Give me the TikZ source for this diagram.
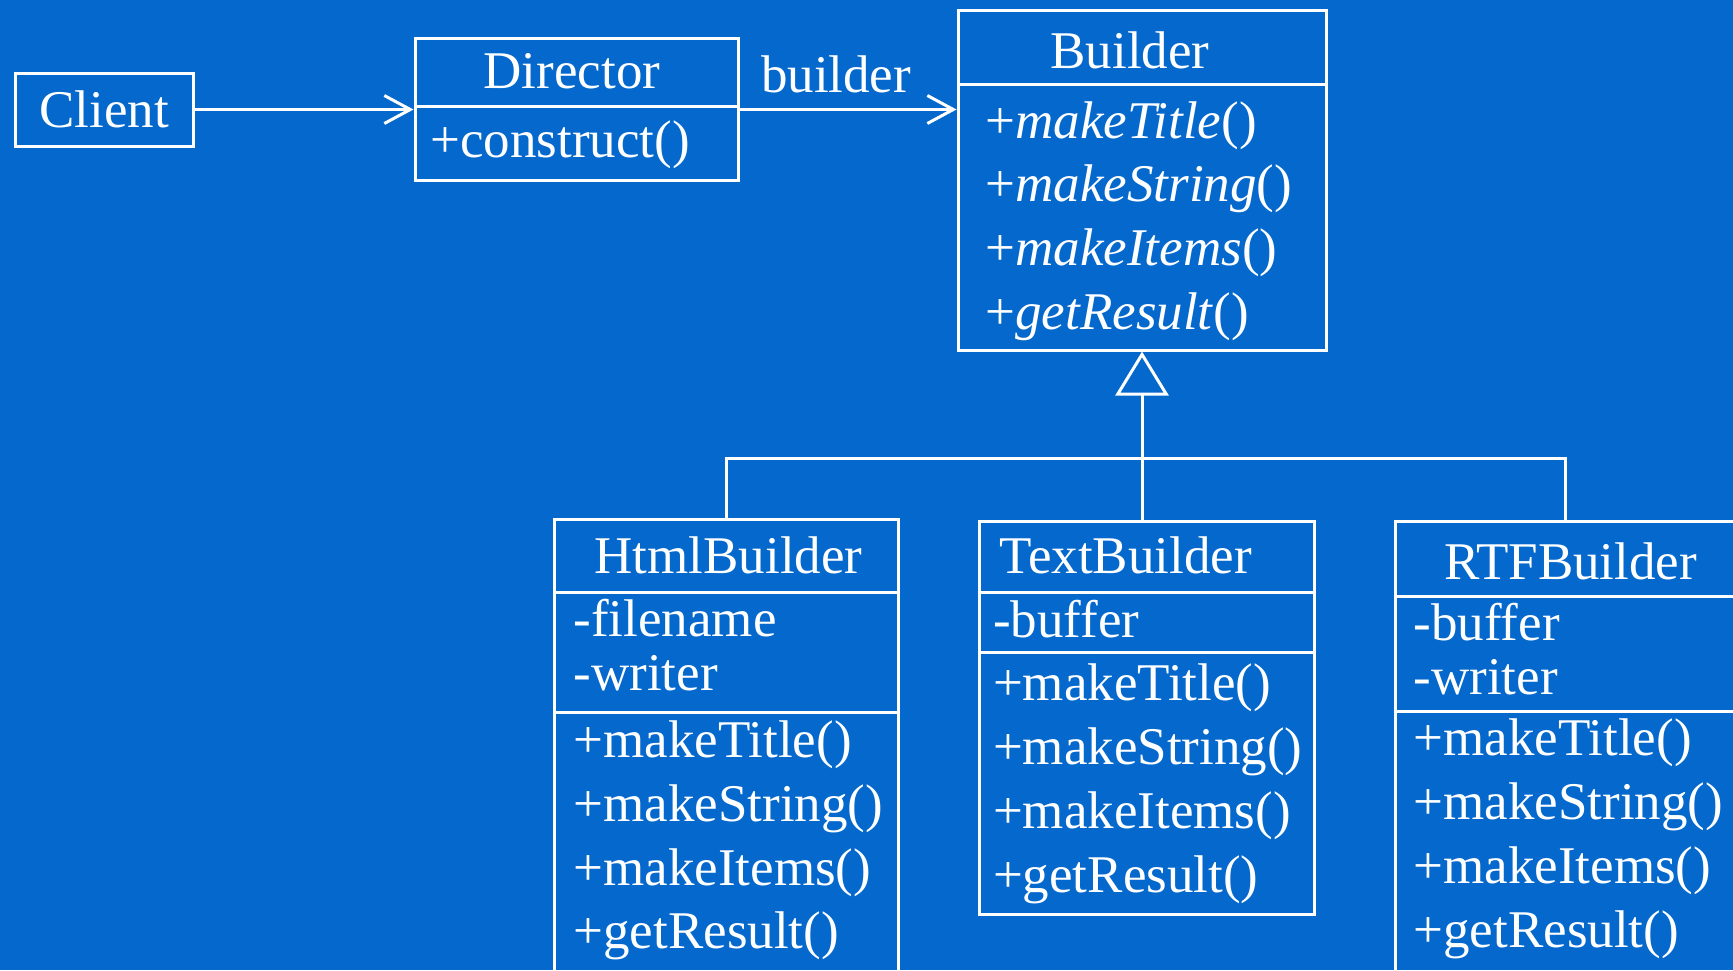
\documentclass[tikz,border=0pt]{standalone}
\usepackage{fontspec}
\setmainfont{Liberation Serif}
\usetikzlibrary{arrows.meta}
\definecolor{slideblue}{RGB}{4,104,204}

\begin{document}
\begin{tikzpicture}[x=0.5pt,y=-0.5pt,line width=1.5pt,white,
        font=\fontsize{26.5pt}{32pt}\selectfont]
    \fill[slideblue] (0,0) rectangle (1733,970);
    \useasboundingbox (0,0) rectangle (1733,970);
    % class boxes and their compartments
    \begin{scope}[every node/.style={rectangle,draw=white,line width=1.5pt,inner sep=0pt}]
        \node (client) [minimum width=89pt,minimum height=36.5pt] at (104,109.5) {Client};
        \node (dir-t) [minimum width=161.5pt,minimum height=34pt] at (576.5,72) {};
        \node (dir-ops) [minimum width=161.5pt,minimum height=37pt] at (576.5,143) {};
        \node (bld-t) [minimum width=184pt,minimum height=37pt] at (1142,47) {};
        \node (bld-ops) [minimum width=184pt,minimum height=133pt] at (1142,217) {};
        \node (html-t) [minimum width=172pt,minimum height=36.5pt] at (726,555.5) {};
        \node (html-at) [minimum width=172pt,minimum height=60pt] at (726,652) {};
        \node (html-ops) [minimum width=172pt,minimum height=144pt] at (726,856) {};
        \node (txt-t) [minimum width=167.5pt,minimum height=35.5pt] at (1146.5,556.5) {};
        \node (txt-at) [minimum width=167.5pt,minimum height=30pt] at (1146.5,622) {};
        \node (txt-ops) [minimum width=167.5pt,minimum height=131pt] at (1146.5,783) {};
        \node (rtf-t) [minimum width=170pt,minimum height=37.5pt] at (1565,558.5) {};
        \node (rtf-at) [minimum width=170pt,minimum height=57.5pt] at (1565,653.5) {};
        \node (rtf-ops) [minimum width=170pt,minimum height=144.5pt] at (1565,855.5) {};
    \end{scope}
    % class names
    \begin{scope}[every node/.style={inner sep=0pt,anchor=base}]
        \node (dir-name) at (572,88) {Director};
        \node (bld-name) at (1130,68) {Builder};
        \node (html-name) at (728.5,573) {HtmlBuilder};
        \node (txt-name) at (1125.5,573) {TextBuilder};
        \node (rtf-name) at (1570.5,579) {RTFBuilder};
    \end{scope}
    % attributes and operations
    \begin{scope}[every node/.style={inner sep=0pt,anchor=base west}]
        \node (dir-op1) at (429,157) {+construct()};
        \node (bld-op1) at (984,138) {+\textit{makeTitle}()};
        \node (bld-op2) at (984,201) {+\textit{makeString}()};
        \node (bld-op3) at (984,265) {+\textit{makeItems}()};
        \node (bld-op4) at (984,329) {+\textit{getResult}()};
        \node (html-at1) at (572,636) {-filename};
        \node (html-at2) at (572,690) {-writer};
        \node (html-op1) at (572,757) {+makeTitle()};
        \node (html-op2) at (572,821) {+makeString()};
        \node (html-op3) at (572,885) {+makeItems()};
        \node (html-op4) at (572,948) {+getResult()};
        \node (txt-at1) at (991.5,637) {-buffer};
        \node (txt-op1) at (991.5,700) {+makeTitle()};
        \node (txt-op2) at (991.5,764) {+makeString()};
        \node (txt-op3) at (991.5,828) {+makeItems()};
        \node (txt-op4) at (991.5,892) {+getResult()};
        \node (rtf-at1) at (1412,640) {-buffer};
        \node (rtf-at2) at (1412,694) {-writer};
        \node (rtf-op1) at (1412,755) {+makeTitle()};
        \node (rtf-op2) at (1412,819) {+makeString()};
        \node (rtf-op3) at (1412,883) {+makeItems()};
        \node (rtf-op4) at (1412,947) {+getResult()};
    \end{scope}
    % associations
    \begin{scope}[every edge/.style={draw,line width=1.5pt,-{Straight Barb[length=13pt,width=14pt]}}]
        \path
            (client.east) edge (client.east -| dir-ops.west)
            (client.east -| dir-ops.east) edge node[pos=0.445,above=7.5pt,inner sep=0pt] (blabel) {builder}
                (client.east -| bld-ops.west);
    \end{scope}
    % generalization
    \coordinate (jn) at (1142,458);
    \draw[-{Triangle[open,length=22pt,width=26.5pt]}] (jn) -- (bld-ops.south);
    \draw (html-t.north) |- (jn) -| (rtf-t.north);
    \draw (jn) -- (jn |- txt-t.north);
\end{tikzpicture}
\end{document}
